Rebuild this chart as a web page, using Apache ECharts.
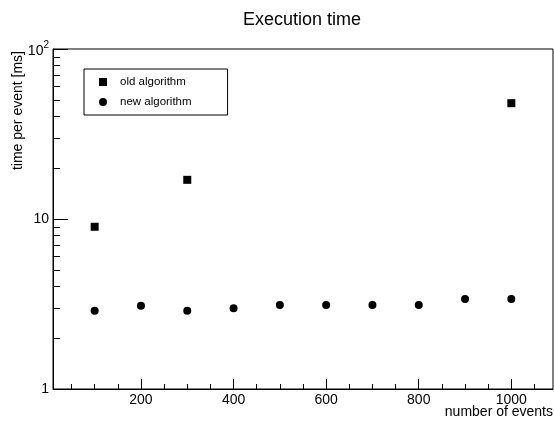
<!DOCTYPE html>
<html><head><meta charset="utf-8">
<script src="https://cdn.jsdelivr.net/npm/echarts@6/dist/echarts.min.js"></script>
<style>html,body{margin:0;padding:0;background:#fff}#c{width:554px;height:421px}</style>
</head><body><div id="c"></div>
<script>
const oldX = [100, 300, 1000];
const oldY = [9.0, 17.0, 48.0];
const newX = [100, 200, 300, 400, 500, 600, 700, 800, 900, 1000];
const newY = [2.89, 3.09, 2.89, 2.99, 3.12, 3.12, 3.12, 3.12, 3.38, 3.38];
const xMajorTicks = [200, 400, 600, 800, 1000];
const xMinorTicks = [50, 100, 150, 250, 300, 350, 450, 500, 550, 650, 700, 750, 850, 900, 950, 1050];
const yMinorTicks = [2, 3, 4, 5, 6, 7, 8, 9, 20, 30, 40, 50, 60, 70, 80, 90];
const FONT = 'Liberation Sans';

const chart = echarts.init(document.getElementById('c'), null, {renderer: 'canvas'});
chart.setOption({
  animation: false,
  backgroundColor: '#fff',
  title: {
    text: 'Execution time', left: 243, top: 11, padding: 0,
    textStyle: {fontFamily: FONT, fontSize: 18, fontWeight: 'normal', color: '#000'}
  },
  legend: {
    orient: 'vertical', left: 84, top: 69,
    borderColor: '#000', borderWidth: 1,
    padding: [7, 36, 7, 15], itemGap: 8,
    itemWidth: 8, itemHeight: 8,
    data: [{name: 'old algorithm', icon: 'rect'}, {name: 'new algorithm', icon: 'circle'}],
    formatter: '{t|{name}}',
    textStyle: {color: '#000', rich: {t: {fontFamily: FONT, fontSize: 11.5, color: '#000', padding: [0, 0, 0, 8]}}}
  },
  grid: {left: 53, right: 1, top: 49, bottom: 32, show: true, borderColor: '#000', borderWidth: 1},
  xAxis: [{
    type: 'value', min: 10, max: 1090,
    axisLine: {show: true, lineStyle: {color: '#000', width: 1}},
    axisTick: {show: true, inside: true, length: 10, customValues: xMajorTicks, lineStyle: {color: '#000'}},
    axisLabel: {show: true, customValues: xMajorTicks, margin: 4, fontFamily: FONT, fontSize: 14, color: '#000',
      formatter: function (v) { return String(v); }},
    splitLine: {show: false}
  }, {
    type: 'value', min: 10, max: 1090, position: 'bottom',
    axisLine: {show: false},
    axisTick: {show: true, inside: true, length: 5, customValues: xMinorTicks, lineStyle: {color: '#000'}},
    axisLabel: {show: false},
    splitLine: {show: false}
  }],
  yAxis: [{
    type: 'log', logBase: 10, min: 1, max: 100,
    axisLine: {show: true, lineStyle: {color: '#000', width: 1}},
    axisTick: {show: true, inside: true, length: 15, lineStyle: {color: '#000'}},
    axisLabel: {
      show: true, margin: 4, color: '#000', fontFamily: FONT, fontSize: 14,
      formatter: function (v) { return v >= 99 ? '{b|10}{s|2}' : String(Math.round(v)); },
      rich: {
        b: {fontFamily: FONT, fontSize: 14, color: '#000', padding: [4, 0, 0, 0]},
        s: {fontFamily: FONT, fontSize: 10, color: '#000', padding: [0, 0, 8, 0]}
      }
    },
    splitLine: {show: false}
  }, {
    type: 'value', min: 0, max: 2, position: 'left',
    axisLine: {show: false},
    axisTick: {show: true, inside: true, length: 7, customValues: yMinorTicks.map(v => Math.log10(v)), lineStyle: {color: '#000'}},
    axisLabel: {show: false},
    splitLine: {show: false}
  }],
  graphic: [{
    type: 'text', x: 18, y: 51, rotation: Math.PI / 2,
    style: {text: 'time per event [ms]', font: '14px "Liberation Sans"', fill: '#000', align: 'right', verticalAlign: 'middle'}
  }, {
    type: 'text', x: 553, y: 412,
    style: {text: 'number of events', font: '14px "Liberation Sans"', fill: '#000', align: 'right', verticalAlign: 'middle'}
  }],
  series: [{
    name: 'old algorithm', type: 'scatter', symbol: 'rect', symbolSize: 8,
    itemStyle: {color: '#000', opacity: 1},
    data: oldX.map((x, i) => [x, oldY[i]])
  }, {
    name: 'new algorithm', type: 'scatter', symbol: 'circle', symbolSize: 8,
    itemStyle: {color: '#000', opacity: 1},
    data: newX.map((x, i) => [x, newY[i]])
  }]
});
</script>
</body></html>
